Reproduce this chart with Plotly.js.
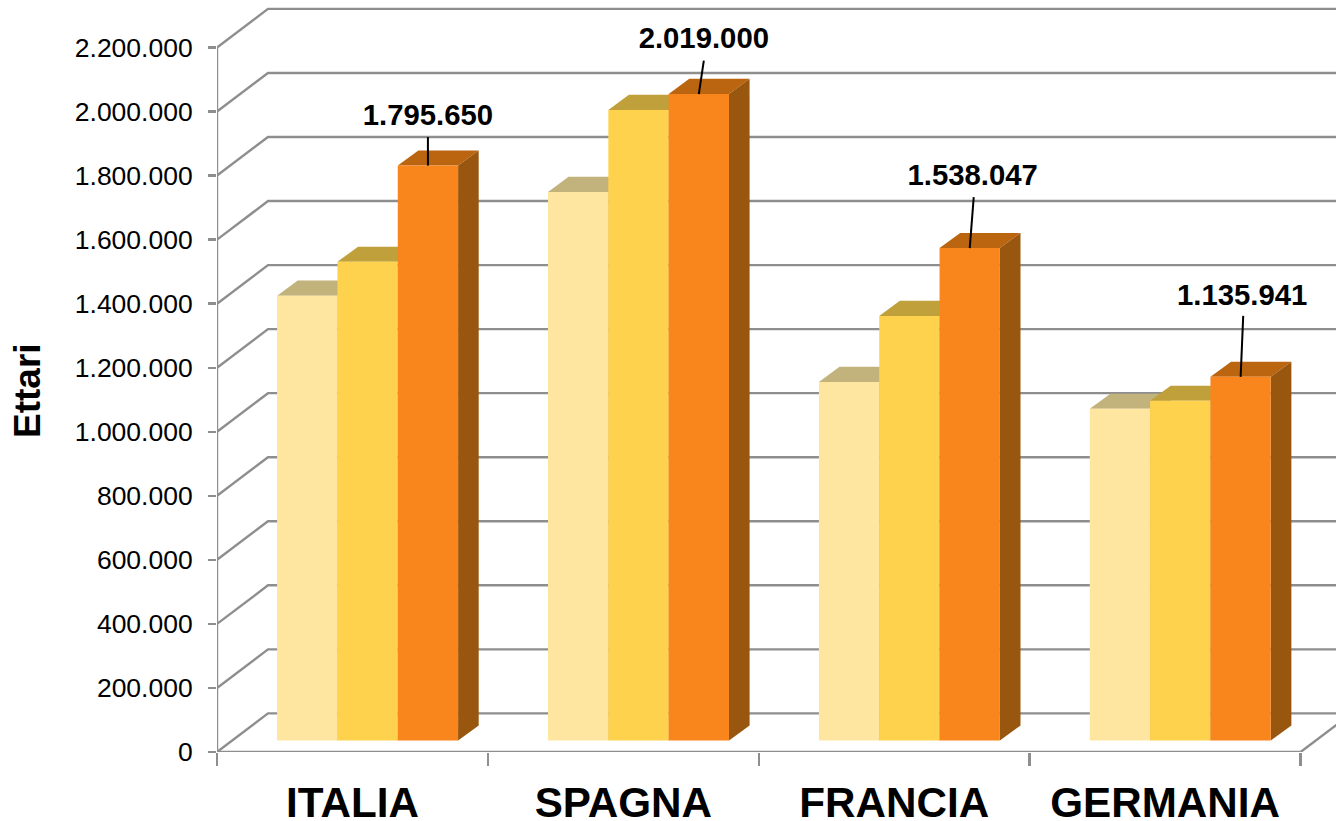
<!DOCTYPE html>
<html><head><meta charset="utf-8">
<script src="https://cdn.plot.ly/plotly-3.0.1.min.js"></script>
<style>html,body{margin:0;padding:0;background:#fff}#c{width:1336px;height:821px}</style>
</head><body><div id="c"></div>
<script>
// ---- data ----
const categories = ['ITALIA','SPAGNA','FRANCIA','GERMANIA'];
const serie1 = [1389000,1713000,1120000,1036000];
const serie2 = [1495000,1969000,1326000,1061000];
const serie3 = [1795650,2019000,1538047,1135941];
const labels3 = ['1.795.650','2.019.000','1.538.047','1.135.941'];
const tickValues = [0,200000,400000,600000,800000,1000000,1200000,1400000,1600000,1800000,2000000,2200000];
const tickLabels = ['0','200.000','400.000','600.000','800.000','1.000.000','1.200.000','1.400.000','1.600.000','1.800.000','2.000.000','2.200.000'];
// ---- styles ----
const frontColors = ['#FEE5A0','#FFD24D','#F9861C'];
const topColors   = ['#C2B27C','#C0A03A','#BB6510'];
const sideColors  = ['#C2A860','#B08A20','#98560F'];
const wallColor = '#8E8E8E';
// ---- geometry ----
const W=1336,H=821,L=217,Y0=752;
const catPx=270.9, unitPx=704.5/2200000;
const px2x=p=>p/catPx, px2y=p=>p/unitPx;
const xMax=(W-L)/catPx, yMax=px2y(Y0);
const wallDx=px2x(51), wallDy=px2y(38.6);
const baseLift=px2y(11.4);
const barStart=px2x(60.1), barW=px2x(60.33);
const depthX=px2x(20.6), depthY=px2y(15.2);
const series=[serie1,serie2,serie3];
const leaderRise=[28.5,33.5,51,61], leaderDx=[0,5,4,2.6];
const labelRise=[48,53.5,70.5,79], labelDx=[0,5,3,1.5];

const traces=[];
// walls
let wx=[],wy=[];
tickValues.forEach(v=>{wx.push(0,wallDx,xMax,null);wy.push(v,v+wallDy,v+wallDy,null);});
traces.push({type:'scatter',mode:'lines',x:wx,y:wy,line:{color:wallColor,width:2.4},hoverinfo:'skip',showlegend:false});
// axis lines + floor
traces.push({type:'scatter',mode:'lines',
  x:[0,0,null,0,categories.length,null,categories.length,categories.length+wallDx],
  y:[tickValues[tickValues.length-1],0,null,0,0,null,0,wallDy],
  line:{color:wallColor,width:2.4},hoverinfo:'skip',showlegend:false,cliponaxis:false});
// top and side faces
series.forEach((vals,s)=>{
  vals.forEach((v,i)=>{
    const x0=i+barStart+s*barW,x1=x0+barW,yT=v+baseLift,yB=baseLift;
    traces.push({type:'scatter',mode:'lines',fill:'toself',fillcolor:topColors[s],line:{width:0,color:topColors[s]},
      x:[x0,x1,x1+depthX,x0+depthX,x0],y:[yT,yT,yT+depthY,yT+depthY,yT],hoverinfo:'skip',showlegend:false});
    traces.push({type:'scatter',mode:'lines',fill:'toself',fillcolor:sideColors[s],line:{width:0,color:sideColors[s]},
      x:[x1,x1+depthX,x1+depthX,x1,x1],y:[yB,yB+depthY,yT+depthY,yT,yB],hoverinfo:'skip',showlegend:false});
  });
});
// front faces
series.forEach((vals,s)=>{
  traces.push({type:'bar',name:'Serie '+(s+1),yaxis:'y2',
    x:vals.map((v,i)=>i+barStart+(s+0.5)*barW),y:vals,width:barW,
    marker:{color:frontColors[s],line:{width:0}},showlegend:false,hoverinfo:'skip'});
});
// leader lines and labels
serie3.forEach((v,i)=>{
  const xc=i+barStart+2.5*barW;
  traces.push({type:'scatter',mode:'lines',yaxis:'y2',x:[xc,xc+px2x(leaderDx[i])],y:[v,v+px2y(leaderRise[i])],
    line:{color:'#000',width:2},hoverinfo:'skip',showlegend:false});
});
traces.push({type:'scatter',mode:'text',yaxis:'y2',cliponaxis:false,
  x:serie3.map((v,i)=>i+barStart+2.5*barW+px2x(labelDx[i])),
  y:serie3.map((v,i)=>v+px2y(labelRise[i])),
  text:labels3,textposition:'middle center',
  textfont:{family:'Liberation Sans',size:29.3,color:'#000',weight:700},hoverinfo:'skip',showlegend:false});
// category labels carried by the overlay x axis
traces.push({type:'scatter',mode:'markers',xaxis:'x2',x:categories.map((c,i)=>i+0.5),y:categories.map(()=>0),
  marker:{opacity:0,size:1},hoverinfo:'skip',showlegend:false});

const layout={
  width:W,height:H,autosize:false,paper_bgcolor:'#fff',plot_bgcolor:'#fff',showlegend:false,hovermode:false,
  margin:{l:L,r:0,t:0,b:H-Y0,pad:0},barmode:'overlay',
  xaxis:{range:[0,xMax],tickmode:'array',tickvals:categories.map((c,i)=>i).concat(categories.length),ticktext:['','','','',''],
    ticks:'outside',ticklen:13,tickwidth:2.4,tickcolor:wallColor,showline:false,showgrid:false,zeroline:false,fixedrange:true},
  xaxis2:{overlaying:'x',anchor:'y',side:'bottom',range:[0,xMax],tickmode:'array',tickvals:categories.map((c,i)=>i+0.5),ticktext:categories,
    ticks:'',ticklabelstandoff:22,tickfont:{family:'Liberation Sans',size:42.2,color:'#000',weight:700},showline:false,showgrid:false,zeroline:false,fixedrange:true},
  yaxis:{range:[0,yMax],tickmode:'array',tickvals:tickValues,ticktext:tickLabels,ticks:'outside',ticklen:8,tickwidth:2.4,tickcolor:wallColor,
    ticklabelstandoff:10,tickfont:{family:'Liberation Sans',size:26.5,color:'#000'},showline:false,showgrid:false,zeroline:false,fixedrange:true},
  yaxis2:{overlaying:'y',side:'left',range:[-baseLift,yMax-baseLift],showticklabels:false,ticks:'',showline:false,showgrid:false,zeroline:false,fixedrange:true},
  annotations:[{text:'Ettari',textangle:-90,showarrow:false,xref:'paper',yref:'paper',xanchor:'center',yanchor:'middle',
    x:(28-L)/(W-L),y:(Y0-391)/Y0,font:{family:'Liberation Sans',size:37,color:'#000',weight:700}}]
};
Plotly.newPlot('c',traces,layout,{displayModeBar:false,staticPlot:true});
</script></body></html>
